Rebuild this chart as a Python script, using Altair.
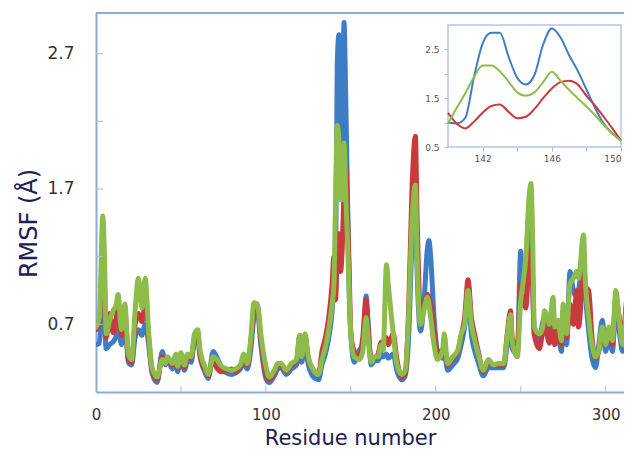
import altair as alt
import pandas as pd

# ---------------- data ----------------
series_names = ["Run 1", "Run 2", "Run 3"]
series_colors = ["#3f7cc6", "#c83a3b", "#8dbc4b"]

residues = [0, 2, 4, 5, 6, 8, 10, 12, 13, 15,
            17, 19, 21, 23, 25, 27, 29, 31, 33, 36,
            39, 41, 42, 45, 47, 48, 50, 52, 54, 56,
            58, 60, 61, 64, 66, 69, 71, 74, 77, 80,
            82, 85, 87, 89, 91, 93, 95, 97, 100, 102,
            105, 107, 109, 112, 115, 118, 120, 121, 123, 125,
            128, 131, 133, 135, 137, 139, 140, 141, 142, 143,
            144, 145, 146, 147, 148, 149, 150, 152, 155, 157,
            159, 160, 162, 164, 166, 168, 169, 171, 172, 175,
            177, 180, 182, 184, 186, 188, 189, 191, 193, 195,
            196, 197, 199, 201, 204, 205, 207, 210, 213, 215,
            217, 219, 221, 223, 225, 228, 231, 234, 237, 240,
            242, 244, 245, 248, 250, 251, 253, 255, 256, 257,
            258, 261, 263, 264, 265, 267, 269, 270, 272, 274,
            275, 277, 279, 281, 283, 284, 287, 288, 290, 292,
            294, 296, 298, 300, 302, 304, 306, 308, 310, 313,
            315, 317]

rmsf_blue = [0.55, 0.56, 0.95, 0.75, 0.52, 0.55, 0.57, 0.62, 0.70, 0.55,
             0.75, 0.42, 0.40, 0.60, 0.66, 0.62, 0.70, 0.55, 0.34, 0.27,
             0.50, 0.40, 0.44, 0.37, 0.44, 0.35, 0.45, 0.36, 0.44, 0.42,
             0.58, 0.60, 0.48, 0.35, 0.30, 0.50, 0.46, 0.38, 0.34, 0.33,
             0.34, 0.37, 0.42, 0.37, 0.50, 0.75, 0.80, 0.55, 0.30, 0.27,
             0.32, 0.37, 0.38, 0.33, 0.37, 0.40, 0.52, 0.42, 0.53, 0.40,
             0.31, 0.29, 0.40, 0.48, 0.60, 0.80, 1.00, 1.10, 2.62, 2.84,
             1.92, 1.98, 2.93, 2.38, 1.68, 0.98, 0.63, 0.42, 0.51, 0.55,
             0.91, 0.75, 0.40, 0.43, 0.43, 0.48, 0.46, 0.48, 0.45, 0.48,
             0.36, 0.29, 0.32, 0.60, 1.30, 1.60, 1.10, 0.65, 0.85, 1.25,
             1.32, 1.20, 0.75, 0.50, 0.45, 0.50, 0.36, 0.40, 0.45, 0.55,
             0.68, 0.90, 0.62, 0.50, 0.42, 0.32, 0.38, 0.38, 0.38, 0.38,
             0.55, 0.70, 0.52, 0.48, 1.24, 1.00, 0.95, 1.35, 1.40, 1.00,
             0.63, 0.58, 0.72, 0.75, 0.75, 0.65, 0.85, 0.60, 0.60, 0.50,
             0.75, 0.55, 1.09, 0.95, 0.90, 0.95, 1.20, 0.95, 0.65, 0.45,
             0.38, 0.55, 0.73, 0.50, 0.62, 0.50, 0.85, 0.65, 0.50, 0.75,
             0.70, 1.40]

rmsf_red = [0.66, 0.70, 1.25, 1.00, 0.60, 0.78, 0.64, 0.75, 0.85, 0.62,
            0.80, 0.45, 0.42, 0.70, 0.78, 0.72, 0.85, 0.60, 0.36, 0.29,
            0.46, 0.41, 0.45, 0.40, 0.46, 0.38, 0.47, 0.38, 0.47, 0.45,
            0.60, 0.63, 0.50, 0.37, 0.32, 0.44, 0.38, 0.35, 0.36, 0.37,
            0.35, 0.39, 0.46, 0.40, 0.55, 0.80, 0.83, 0.60, 0.33, 0.29,
            0.34, 0.40, 0.40, 0.35, 0.40, 0.43, 0.62, 0.48, 0.60, 0.44,
            0.36, 0.33, 0.50, 0.60, 0.75, 1.00, 1.20, 0.88, 1.20, 1.37,
            1.09, 1.28, 1.70, 1.86, 1.55, 1.12, 0.63, 0.50, 0.45, 0.60,
            0.88, 0.70, 0.45, 0.45, 0.48, 0.57, 0.55, 0.60, 0.55, 0.63,
            0.45, 0.31, 0.34, 0.80, 1.70, 2.09, 1.50, 0.80, 0.85, 0.92,
            0.90, 0.85, 0.65, 0.50, 0.50, 0.55, 0.40, 0.45, 0.50, 0.62,
            0.75, 1.03, 0.75, 0.62, 0.50, 0.35, 0.42, 0.40, 0.40, 0.40,
            0.62, 0.80, 0.60, 0.50, 1.00, 0.90, 0.82, 1.20, 1.25, 1.00,
            0.62, 0.52, 0.65, 0.70, 0.65, 0.56, 0.75, 0.55, 0.65, 0.55,
            0.80, 0.60, 0.85, 0.70, 0.95, 0.68, 1.05, 0.98, 0.95, 0.60,
            0.45, 0.50, 0.62, 0.55, 0.65, 0.55, 0.90, 0.75, 0.60, 0.92,
            0.90, 1.60]

rmsf_green = [0.68, 0.75, 1.50, 1.20, 0.63, 0.73, 0.80, 0.85, 0.92, 0.66,
              0.85, 0.48, 0.44, 0.80, 1.04, 0.82, 1.04, 0.63, 0.38, 0.31,
              0.44, 0.41, 0.46, 0.41, 0.48, 0.39, 0.49, 0.40, 0.48, 0.46,
              0.63, 0.66, 0.53, 0.39, 0.33, 0.46, 0.44, 0.39, 0.37, 0.36,
              0.37, 0.40, 0.48, 0.41, 0.58, 0.86, 0.85, 0.63, 0.39, 0.31,
              0.36, 0.41, 0.41, 0.36, 0.41, 0.44, 0.62, 0.46, 0.63, 0.46,
              0.36, 0.33, 0.44, 0.53, 0.66, 0.85, 0.98, 1.60, 2.17, 2.05,
              1.62, 1.62, 2.04, 1.67, 1.33, 0.95, 0.63, 0.46, 0.44, 0.50,
              0.75, 0.62, 0.42, 0.46, 0.46, 0.55, 0.51, 1.14, 1.00, 0.63,
              0.41, 0.33, 0.36, 0.75, 1.45, 1.73, 1.20, 0.70, 0.80, 0.90,
              0.85, 0.75, 0.55, 0.44, 0.51, 0.63, 0.41, 0.46, 0.51, 0.63,
              0.70, 0.95, 0.70, 0.58, 0.48, 0.36, 0.44, 0.40, 0.41, 0.41,
              0.60, 0.77, 0.58, 0.46, 0.88, 0.97, 1.19, 1.65, 1.74, 1.36,
              0.68, 0.63, 0.68, 0.80, 0.78, 0.70, 0.90, 0.68, 0.73, 0.58,
              0.85, 0.63, 1.00, 1.04, 1.09, 1.04, 1.36, 1.04, 0.75, 0.55,
              0.46, 0.51, 0.68, 0.55, 0.68, 0.58, 0.95, 0.73, 0.55, 0.88,
              0.92, 2.00]

# inset (zoom on residues 140-150)
inset_residues = [140, 140.5, 141, 141.5, 142, 142.5, 143, 143.5, 144, 144.5,
                  145, 145.5, 146, 146.5, 147, 147.5, 148, 148.5, 149, 149.5, 150]
inset_blue = [1.00, 0.98, 1.10, 1.93, 2.62, 2.84, 2.84, 2.35, 1.92, 1.78,
              1.98, 2.60, 2.93, 2.75, 2.38, 2.06, 1.68, 1.30, 0.98, 0.78, 0.63]
inset_red = [1.20, 0.98, 0.88, 1.02, 1.20, 1.34, 1.37, 1.22, 1.09, 1.12,
             1.28, 1.50, 1.70, 1.83, 1.86, 1.78, 1.55, 1.35, 1.12, 0.88, 0.63]
inset_green = [0.98, 1.30, 1.60, 1.93, 2.17, 2.17, 2.05, 1.84, 1.62, 1.55,
               1.62, 1.83, 2.04, 1.86, 1.67, 1.50, 1.33, 1.15, 0.95, 0.77, 0.63]

x_label_values = [0, 100, 200, 300]
x_tick_values = [50, 100, 150, 200, 250, 300]
y_label_values = [0.7, 1.7, 2.7]
y_tick_values = [0.7, 1.2, 1.7, 2.2, 2.7]
inset_x_values = [142, 144, 146, 148, 150]
inset_y_values = [0.5, 1.0, 1.5, 2.0, 2.5]

# ---------------- tables ----------------
def long_table(xs, series):
    rows = []
    for k, (name, vals) in enumerate(zip(series_names, series)):
        assert len(vals) == len(xs)
        for x, v in zip(xs, vals):
            rows.append({"residue": x, "rmsf": v, "series": name, "k": k})
    return pd.DataFrame(rows)

main_df = long_table(residues, [rmsf_blue, rmsf_red, rmsf_green])
inset_df = long_table(inset_residues, [inset_blue, inset_red, inset_green])

# ---------------- style ----------------
FONT = "DejaVu Sans"
AXIS_BLUE = "#8eaad8"
TICK_COL = "#b4bccb"
W, H = 528, 379
X_END = 310.8

x_main = alt.Scale(domain=[0, X_END], nice=False, zero=False)
y_main = alt.Scale(domain=[0.2, 3.0], nice=False, zero=False)
# inset placed in plot-area pixels (page x 448..621, y 25..147)
x_in = alt.Scale(domain=[140, 150], range=[352, 525], nice=False, zero=False)
y_in = alt.Scale(domain=[0.5, 3.0], range=[134, 12], nice=False, zero=False)
color_scale = alt.Scale(domain=series_names, range=series_colors)

x_axis = alt.Axis(values=x_label_values, format="d", ticks=False, tickSize=0, grid=False,
                  labelFlush=False,
                  domainColor=AXIS_BLUE, domainWidth=2,
                  labelFont=FONT, labelFontSize=15, labelColor="#333333", labelPadding=15,
                  title="Residue number", titleFont=FONT, titleFontSize=21,
                  titleFontWeight="normal", titleColor="#1b2056",
                  titleX=254, titleY=52, titleAlign="center", titleBaseline="alphabetic")
y_axis = alt.Axis(values=y_label_values, format=".1f", ticks=False, tickSize=0, grid=False,
                  labelFlush=False,
                  domainColor=AXIS_BLUE, domainWidth=2,
                  labelFont=FONT, labelFontSize=17, labelColor="#333333", labelPadding=22,
                  title="RMSF (Å)", titleFont=FONT, titleFontSize=24,
                  titleFontWeight="normal", titleColor="#1b2056",
                  titleX=-67, titleY=210, titleAngle=270,
                  titleAlign="center", titleBaseline="middle")

x_axis_in = alt.Axis(orient="bottom", offset=-245, values=inset_x_values,
                     labelExpr="datum.value % 4 == 2 ? datum.label : ''",
                     domain=False, tickSize=4, tickColor=TICK_COL, grid=False,
                     labelFont=FONT, labelFontSize=9, labelColor="#555555", labelPadding=3,
                     title=None)
y_axis_in = alt.Axis(orient="left", offset=-352, values=inset_y_values, format=".1f",
                     labelExpr="(datum.value == 1 || datum.value == 2) ? '' : datum.label",
                     labelFlush=False,
                     domain=False, tickSize=4, tickColor=TICK_COL, grid=False,
                     labelFont=FONT, labelFontSize=9, labelColor="#555555", labelPadding=5,
                     title=None)

# ---------------- main panel ----------------
lines = alt.Chart(main_df).mark_line(
    strokeWidth=5, interpolate="monotone", clip=True,
    strokeCap="round", strokeJoin="round"
).encode(
    x=alt.X("residue:Q", scale=x_main, axis=x_axis),
    y=alt.Y("rmsf:Q", scale=y_main, axis=y_axis),
    color=alt.Color("series:N", scale=color_scale, legend=None),
    order=alt.Order("residue:Q"),
)

ytick_df = pd.DataFrame({"rmsf": y_tick_values})
yticks = alt.Chart(ytick_df).mark_rule(color=TICK_COL, strokeWidth=1).encode(
    y=alt.Y("rmsf:Q", scale=y_main, axis=y_axis),
    x=alt.value(0), x2=alt.value(7),
)
xtick_df = pd.DataFrame({"residue": x_tick_values})
xticks = alt.Chart(xtick_df).mark_rule(color=TICK_COL, strokeWidth=1).encode(
    x=alt.X("residue:Q", scale=x_main, axis=x_axis),
    y=alt.value(H), y2=alt.value(H - 6),
)
top_df = pd.DataFrame({"residue": [0], "residue_end": [X_END], "rmsf": [3.0]})
top_rule = alt.Chart(top_df).mark_rule(color=AXIS_BLUE, strokeWidth=2).encode(
    x=alt.X("residue:Q", scale=x_main, axis=x_axis), x2="residue_end:Q",
    y=alt.Y("rmsf:Q", scale=y_main, axis=y_axis),
)

main = alt.layer(lines, yticks, xticks, top_rule)

# ---------------- inset ----------------
frame_df = pd.DataFrame({"residue": [140], "residue_end": [150],
                         "rmsf": [0.5], "rmsf_end": [3.0]})
inset_frame = alt.Chart(frame_df).mark_rect(
    fillOpacity=0, stroke="#b3c6e6", strokeWidth=1.5
).encode(
    x=alt.X("residue:Q", scale=x_in, axis=x_axis_in), x2="residue_end:Q",
    y=alt.Y("rmsf:Q", scale=y_in, axis=y_axis_in), y2="rmsf_end:Q",
)
inset_lines = alt.Chart(inset_df).mark_line(
    strokeWidth=2, interpolate="monotone"
).encode(
    x=alt.X("residue:Q", scale=x_in, axis=x_axis_in),
    y=alt.Y("rmsf:Q", scale=y_in, axis=y_axis_in),
    color=alt.Color("series:N", scale=color_scale, legend=None),
    order=alt.Order("residue:Q"),
)
inset = alt.layer(inset_frame, inset_lines)

chart = alt.layer(main, inset).resolve_scale(
    x="independent", y="independent"
).properties(
    width=W, height=H,
    padding={"left": 88, "top": 5, "right": 0, "bottom": 57},
    autosize=alt.AutoSizeParams(type="none"),
).configure_view(strokeWidth=0)

chart.save("out.html", embed_options={"renderer": "svg", "actions": False})
